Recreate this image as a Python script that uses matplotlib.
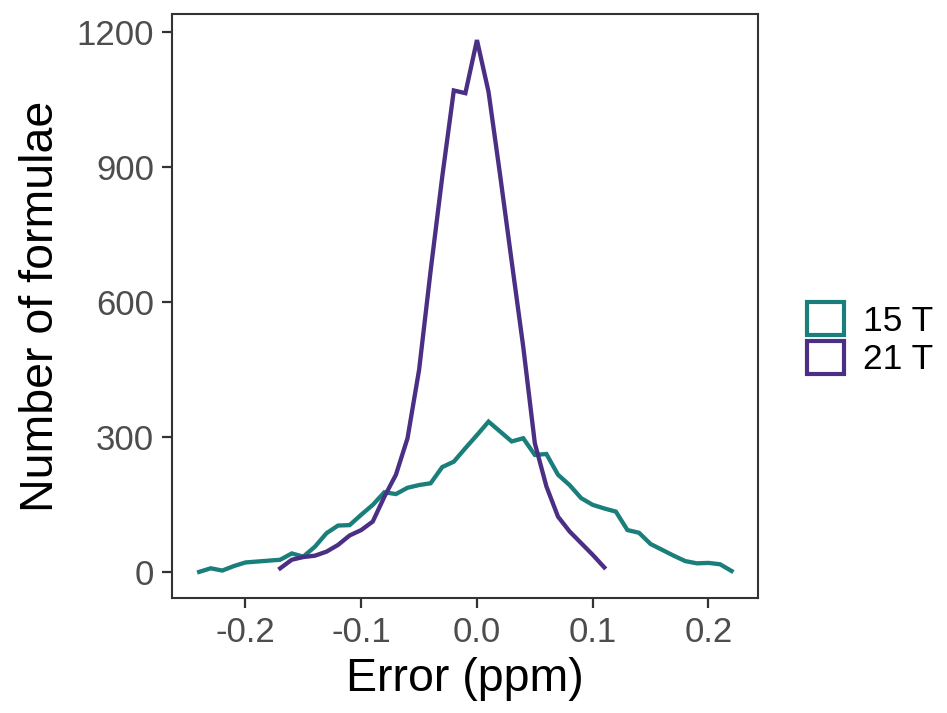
import numpy as np
import matplotlib.pyplot as plt
from matplotlib.patches import Patch

plt.rcParams['font.family'] = ['Liberation Sans', 'DejaVu Sans']

# Frequency polygons of mass error, bin width 0.01 ppm
err_15 = np.round(np.arange(-0.24, 0.2201, 0.01), 2)
n_15 = [0, 8, 3, 13, 21, 23, 25, 27, 41, 34, 56, 86, 103, 104, 127, 149,
        177, 173, 187, 193, 197, 233, 245, 275, 304, 334, 312, 290, 297,
        260, 262, 216, 193, 164, 149, 141, 134, 93, 87, 62, 49, 36, 24,
        19, 20, 17, 2]

err_21 = np.round(np.arange(-0.17, 0.1101, 0.01), 2)
n_21 = [8, 27, 33, 36, 45, 60, 81, 93, 112, 167, 216, 297, 449, 670, 878,
        1070, 1064, 1182, 1067, 882, 690, 500, 286, 190, 123, 90, 64, 38, 10]

labels = ['15 T', '21 T']
colors = ['#1a7f7b', '#4a2f85']

fig = plt.figure(figsize=(9.47, 7.13), dpi=100)
ax = fig.add_axes([0.1816, 0.1613, 0.6188, 0.8191])

ax.plot(err_15, n_15, color=colors[0], lw=3.1, solid_joinstyle='miter')
ax.plot(err_21, n_21, color=colors[1], lw=3.1, solid_joinstyle='miter')

ax.set_xlim(-0.2635, 0.2428)
ax.set_ylim(-58, 1240)
ax.set_xticks([-0.2, -0.1, 0.0, 0.1, 0.2])
ax.set_xticklabels(['-0.2', '-0.1', '0.0', '0.1', '0.2'])
ax.set_yticks([0, 300, 600, 900, 1200])

ax.tick_params(labelsize=25, labelcolor='#4d4d4d', color='#333333',
               length=7, width=1.6, pad=6)
for s in ax.spines.values():
    s.set_color('#333333')
    s.set_linewidth(1.5)

ax.set_xlabel('Error (ppm)', fontsize=33.5, labelpad=6)
ax.set_ylabel('Number of formulae', fontsize=33.5, labelpad=10)

handles = [Patch(facecolor='white', edgecolor=c, linewidth=3) for c in colors]
fig.legend(handles, labels, loc='center left', bbox_to_anchor=(0.833, 0.524),
           frameon=False, fontsize=25.5, handlelength=1.05, handleheight=1.05,
           labelspacing=0.08, handletextpad=0.55, borderpad=0)

fig.savefig('out.png', dpi=100)
